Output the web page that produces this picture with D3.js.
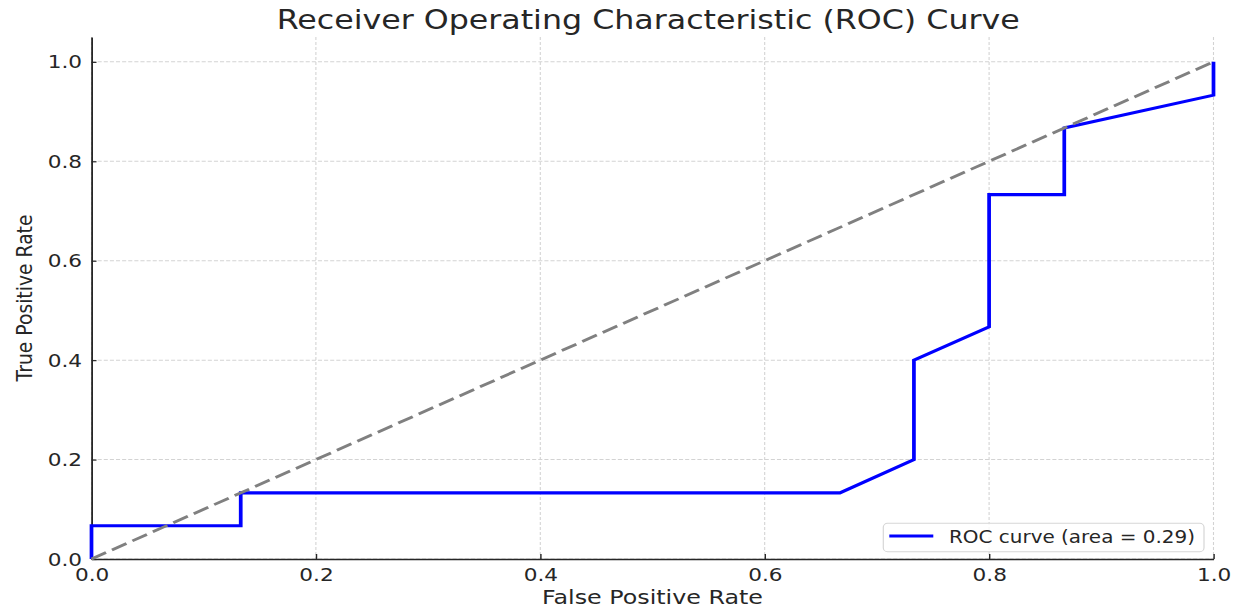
<!DOCTYPE html>
<html><head><meta charset="utf-8">
<script src="https://cdn.jsdelivr.net/npm/d3@7"></script>
<style>
body{margin:0;background:#fff;}
svg{display:block;font-family:"DejaVu Sans",sans-serif;}
</style>
</head><body>
<svg id="chart" width="1242" height="610"></svg>
<script>
// ---- data ----
const fpr = [0.0, 0.0, 0.133, 0.133, 0.667, 0.733, 0.733, 0.8, 0.8, 0.867, 0.867, 1.0, 1.0];
const tpr = [0.0, 0.067, 0.067, 0.133, 0.133, 0.2, 0.4, 0.467, 0.733, 0.733, 0.867, 0.933, 1.0];
const diagX = [0.0, 1.0];
const diagY = [0.0, 1.0];
const xTicks = [0.0, 0.2, 0.4, 0.6, 0.8, 1.0];
const yTicks = [0.0, 0.2, 0.4, 0.6, 0.8, 1.0];
const tickLabels = ["0.0", "0.2", "0.4", "0.6", "0.8", "1.0"];
const titleText = "Receiver Operating Characteristic (ROC) Curve";
const xLabelText = "False Positive Rate";
const yLabelText = "True Positive Rate";
const legendText = "ROC curve (area = 0.29)";

// ---- layout ----
const SX = 1.2; // horizontal stretch of the reference picture
const svg = d3.select("#chart");
svg.append("rect").attr("width",1242).attr("height",610).attr("fill","#fff");
const g = svg.append("g").attr("transform", `scale(${SX},1)`);

const x = d3.scaleLinear().domain([0, 1]).range([91.5/SX, 1213.5/SX]);
const y = d3.scaleLinear().domain([0, 1.05]).range([559, 37]);
const textColor = "#262626";

// grid
const grid = g.append("g");
grid.selectAll("line.gx").data(xTicks).join("line")
  .attr("x1", d=>x(d)).attr("x2", d=>x(d))
  .attr("y1", y(1.05)).attr("y2", y(0))
  .attr("stroke", "#d3d3d3").attr("stroke-width", 0.9)
  .attr("stroke-dasharray", "3,2");
grid.selectAll("line.gy").data(yTicks).join("line")
  .attr("x1", x(0)).attr("x2", x(1))
  .attr("y1", d=>y(d)).attr("y2", d=>y(d))
  .attr("stroke", "#d3d3d3").attr("stroke-width", 1)
  .attr("stroke-dasharray", "3.4,1.7");

// axes
const fmt = (d,i)=>tickLabels[i];
const xAxis = g.append("g").attr("transform", `translate(0,${y(0)})`)
  .call(d3.axisBottom(x).tickValues(xTicks).tickFormat(fmt).tickSizeInner(-5).tickSizeOuter(0).tickPadding(9.5));
const yAxis = g.append("g").attr("transform", `translate(${x(0)},0)`)
  .call(d3.axisLeft(y).tickValues(yTicks).tickFormat(fmt).tickSizeInner(-5/SX).tickSizeOuter(0).tickPadding(7.9));
[xAxis, yAxis].forEach(a=>{
  a.attr("font-family", "DejaVu Sans, sans-serif").attr("font-size", 18).attr("color", textColor);
  a.select(".domain").attr("stroke-width", 1.5);
  a.selectAll(".tick line").attr("stroke-width", 1.2);
});
yAxis.selectAll(".tick text").attr("dy", "0.34em");

// ROC curve
const pts = fpr.map((f,i)=>[f, tpr[i]]);
const line = d3.line().x(d=>x(d[0])).y(d=>y(d[1]));
g.append("path").datum(pts)
  .attr("d", line).attr("fill","none")
  .attr("stroke","#0000ff").attr("stroke-width",3.1)
  .attr("stroke-linejoin","miter");

// chance diagonal
const dpts = diagX.map((f,i)=>[f, diagY[i]]);
g.append("path").datum(dpts)
  .attr("d", line).attr("fill","none")
  .attr("stroke","#808080").attr("stroke-width",2.8)
  .attr("stroke-dasharray","13.7,5.6");

// title & labels
g.append("text").text(titleText)
  .attr("x", 276.7/SX).attr("y", 29)
  .attr("font-size", 26).attr("fill", textColor)
  .attr("textLength", 743/SX).attr("lengthAdjust","spacingAndGlyphs");
g.append("text").text(xLabelText)
  .attr("x", 542/SX).attr("y", 604)
  .attr("font-size", 19.3).attr("fill", textColor)
  .attr("textLength", 221/SX).attr("lengthAdjust","spacingAndGlyphs");
g.append("text").text(yLabelText)
  .attr("transform", `translate(${31.7/SX},298) rotate(-90)`)
  .attr("text-anchor","middle")
  .attr("font-size", 18.4).attr("fill", textColor)
  .attr("textLength", 167).attr("lengthAdjust","spacingAndGlyphs");

// legend
const lg = g.append("g");
lg.append("rect")
  .attr("x", 883.3/SX).attr("y", 523.3)
  .attr("width", (1204-883.3)/SX).attr("height", 28.4)
  .attr("rx", 3.5).attr("ry", 4)
  .attr("fill","#fff").attr("fill-opacity",0.8)
  .attr("stroke","#d6d6d6").attr("stroke-width",1);
lg.append("line")
  .attr("x1", 889.3/SX).attr("x2", 933.3/SX)
  .attr("y1", 536).attr("y2", 536)
  .attr("stroke","#0000ff").attr("stroke-width",3.1);
lg.append("text").text(legendText)
  .attr("x", 949/SX).attr("y", 543.3)
  .attr("font-size", 17.5).attr("fill", textColor)
  .attr("textLength", 246/SX).attr("lengthAdjust","spacingAndGlyphs");
</script>
</body></html>
